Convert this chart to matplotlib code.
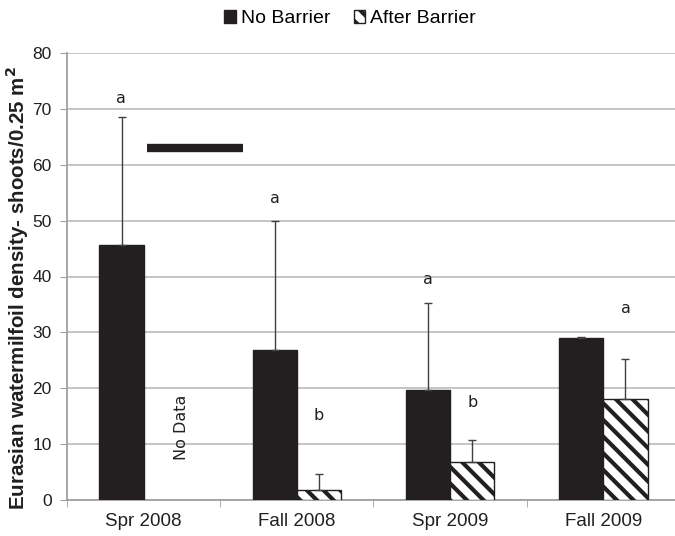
import numpy as np
import matplotlib
matplotlib.use('Agg')
from matplotlib import pyplot as plt

categories = ['Spr 2008', 'Fall 2008', 'Spr 2009', 'Fall 2009']
no_barrier = [45.6, 26.8, 19.7, 29.0]
no_barrier_err = [23.0, 23.2, 15.6, 0.1]
after_barrier = [0.0, 1.8, 6.8, 18.1]
after_barrier_err = [0.0, 2.8, 3.9, 7.1]
after_has_data = [False, True, True, True]

# significance letters: (category index, x offset, y, text)
letters = [(0, -0.145, 71.8, 'a'), (1, -0.145, 54.0, 'a'), (1, 0.145, 15.2, 'b'),
           (2, -0.145, 39.4, 'a'), (2, 0.145, 17.5, 'b'), (3, 0.145, 34.2, 'a')]

plt.rcParams['font.family'] = ['Liberation Sans', 'DejaVu Sans']
plt.rcParams['hatch.linewidth'] = 3.0

fig = plt.figure(figsize=(6.75, 5.36), dpi=100)
W, H = 675.0, 536.0
ax = fig.add_axes([67 / W, 36 / H, (680 - 67) / W, 447 / H])

x = np.arange(len(categories))
bw = 0.288
dark = '#231f20'

ax.bar(x - bw / 2, no_barrier, bw, color=dark, edgecolor=dark, zorder=3,
       label='No Barrier')
ax.errorbar(x - bw / 2, no_barrier, yerr=[np.zeros(4), no_barrier_err], fmt='none',
            ecolor='#404040', elinewidth=1, capsize=3, capthick=1, zorder=4)

xa = x[after_has_data] + bw / 2
ya = np.array(after_barrier)[after_has_data]
ea = np.array(after_barrier_err)[after_has_data]
ax.bar(xa, ya, bw, color='white', edgecolor=dark, hatch='\\\\', linewidth=1,
       zorder=3, label='After Barrier')
ax.errorbar(xa, ya, yerr=[np.zeros(len(ya)), ea], fmt='none',
            ecolor='#404040', elinewidth=1, capsize=3, capthick=1, zorder=4)

for i, dx, y, t in letters:
    ax.text(x[i] + dx, y, t, ha='center', va='center', fontsize=11.5,
            family='DejaVu Sans', color='#231f20')

ax.text(x[0] + 0.25, 13, 'No Data', rotation=90, ha='center', va='center',
        fontsize=11.5, family='DejaVu Sans', color='#231f20')

# thick horizontal marker bar
ax.plot([0.02, 0.65], [63, 63], color=dark, linewidth=6, solid_capstyle='butt', zorder=4)

ax.set_xlim(-0.5, 3.5)
ax.set_ylim(0, 80)
ax.set_yticks(np.arange(0, 81, 10))
ax.set_xticks(x)
ax.set_xticklabels(categories, fontsize=13.5, color='#231f20')
ax.set_xticks(np.arange(-0.5, 3.6, 1), minor=True)
ax.tick_params(axis='x', which='major', length=0, pad=9)
ax.tick_params(axis='x', which='minor', length=5, color='#a0a0a0', direction='out')
ax.tick_params(axis='y', length=5, color='#a0a0a0', labelsize=12.5, labelcolor='#231f20', pad=6)
ax.yaxis.grid(True, color='#c0c0c0', linewidth=1.3, zorder=0)
ax.set_axisbelow(True)
for s in ['top', 'right']:
    ax.spines[s].set_visible(False)
for s in ['left', 'bottom']:
    ax.spines[s].set_color('#a0a0a0')
    ax.spines[s].set_linewidth(1.3)

ax.set_ylabel('Eurasian watermilfoil density- shoots/0.25 m$^\\mathbf{2}$', fontsize=14.8,
              fontweight='bold', color='#231f20')
ax.yaxis.set_label_coords(-36 / 613, 0.474)

ax.legend(loc='upper center', bbox_to_anchor=((350 - 67) / 613, 1.135), ncol=2,
          frameon=False, fontsize=14, handlelength=0.6, handleheight=0.6,
          handletextpad=0.25, columnspacing=1.2)

fig.savefig('out.png', dpi=100)
